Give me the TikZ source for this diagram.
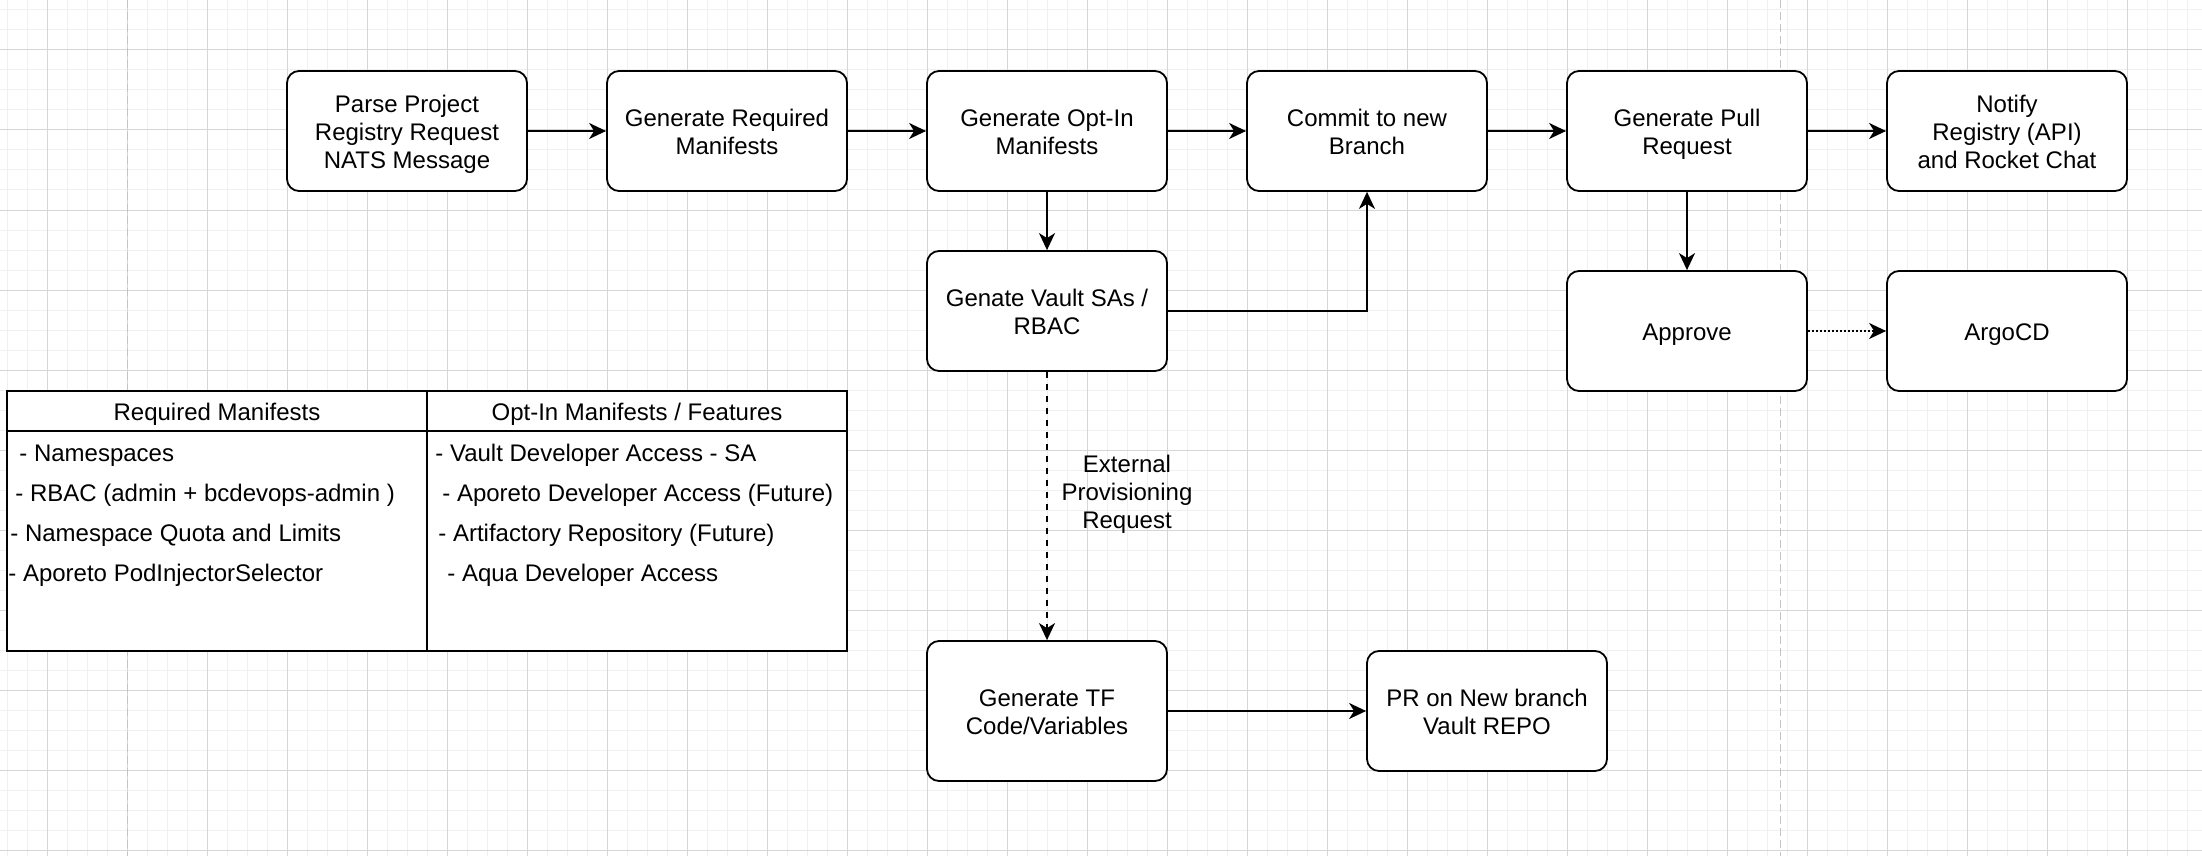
\documentclass[tikz,border=0pt]{standalone}
\usepackage{fontspec}
\setmainfont{Liberation Sans}
\usetikzlibrary{arrows.meta}
\definecolor{gridminor}{HTML}{F0F0F0}
\definecolor{gridmajor}{HTML}{D6D6D6}
\definecolor{pagebreak}{HTML}{C4C4C4}
\newcommand\tstr{\rule{0pt}{12.4pt}}
\newcommand\bstr{\rule[-3pt]{0pt}{3pt}}
\begin{document}
\begin{tikzpicture}[x=0.5pt,y=-0.5pt,
  box/.style={draw, line width=0.9pt, rounded corners=6pt, fill=white,
    minimum width=120pt, minimum height=60pt, align=center, inner sep=2pt,
    font=\fontsize{12}{14}\selectfont},
  conn/.style={draw, line width=0.9pt, -{Stealth[length=8.5pt,width=8pt,inset=2.5pt]}},
  txt/.style={font=\fontsize{12}{14}\selectfont, inner sep=0pt},
  rowtxt/.style={txt, anchor=base west},
  lbl/.style={txt, align=center}]
\useasboundingbox (0,0) rectangle (2202,856);
\fill[white] (0,0) rectangle (2202,856);
% grid
\foreach \x in {7,27,...,2202} \draw[gridminor,line width=0.5pt] (\x,0) -- (\x,856);
\foreach \y in {10,30,...,856} \draw[gridminor,line width=0.5pt] (0,\y) -- (2202,\y);
\foreach \x in {47,127,...,2202} \draw[gridmajor,line width=0.5pt] (\x,0) -- (\x,856);
\foreach \y in {50,130,...,856} \draw[gridmajor,line width=0.5pt] (0,\y) -- (2202,\y);
% page breaks
\draw[pagebreak,line width=0.5pt,dash pattern=on 4pt off 2pt] (127,0) -- (127,856);
\draw[pagebreak,line width=0.5pt,dash pattern=on 4pt off 2pt] (1780,0) -- (1780,856);

% top row
\node[box] (parse) at (407,131) {\tstr Parse Project\\Registry Request\\NATS Message\bstr};
\node[box] (genreq) at (727,131) {\tstr Generate Required\\Manifests\bstr};
\node[box] (genopt) at (1047,131) {\tstr Generate Opt-In\\Manifests\bstr};
\node[box] (commit) at (1367,131) {\tstr Commit to new\\Branch\bstr};
\node[box] (genpr) at (1687,131) {\tstr Generate Pull\\Request\bstr};
\node[box] (notify) at (2007,131) {\tstr Notify\\Registry (API)\\and Rocket Chat\bstr};
% second row
\node[box] (vault) at (1047,311) {\tstr Genate Vault SAs /\\RBAC\bstr};
\node[box] (approve) at (1687,331) {\tstr Approve\bstr};
\node[box] (argo) at (2007,331) {\tstr ArgoCD\bstr};
% bottom
\node[box, minimum height=70pt] (tf) at (1047,711) {\tstr Generate TF\\Code/Variables\bstr};
\node[box] (prvault) at (1487,711) {\tstr PR on New branch\\Vault REPO\bstr};

% connectors
\draw[conn] (parse) -- (genreq);
\draw[conn] (genreq) -- (genopt);
\draw[conn] (genopt) -- (commit);
\draw[conn] (commit) -- (genpr);
\draw[conn] (genpr) -- (notify);
\draw[conn] (genopt) -- (vault);
\draw[conn] (vault.east) -| (commit.south);
\draw[conn] (genpr) -- (approve);
\draw[conn, dash pattern=on 1pt off 1pt] (approve) -- (argo);
\draw[conn, dash pattern=on 3pt off 3pt] (vault) -- (tf);
\draw[conn] (tf) -- (prvault);
\node[lbl] (extlbl) at (1127,494) {External\\Provisioning\\Request};

% table
\draw[line width=1pt, fill=white] (7,391) rectangle (847,651);
\draw[line width=1pt] (7,431) -- (847,431);
\draw[line width=1pt] (427,391) -- (427,651);
\node[txt] (hreq) at (217,414) {Required Manifests};
\node[txt] (hopt) at (637,414) {Opt-In Manifests / Features};
\node[rowtxt] (r1) at (19,461) {- Namespaces};
\node[rowtxt] (r2) at (15,501) {- RBAC (admin + bcdevops-admin )};
\node[rowtxt] (r3) at (10,541) {- Namespace Quota and Limits};
\node[rowtxt] (r4) at (8,581) {- Aporeto PodInjectorSelector};
\node[rowtxt] (o1) at (435,461) {- Vault Developer Access - SA};
\node[rowtxt] (o2) at (442,501) {- Aporeto Developer Access (Future)};
\node[rowtxt] (o3) at (438,541) {- Artifactory Repository (Future)};
\node[rowtxt] (o4) at (447,581) {- Aqua Developer Access};
\end{tikzpicture}
\end{document}
